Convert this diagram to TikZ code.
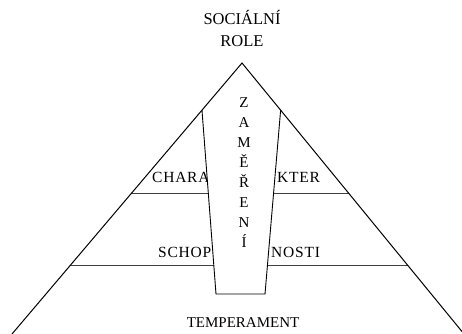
\documentclass[tikz,border=0pt]{standalone}
\usepackage{fontspec}
\setmainfont{Liberation Serif}
\newfontfamily\layerfont[LetterSpace=5]{Liberation Serif}
\usetikzlibrary{calc}

\begin{document}
\begin{tikzpicture}[x=1pt, y=-1pt, every node/.style={inner sep=0pt, font=\fontsize{15}{18}\selectfont},
  layer/.style={draw=black!75, line width=0.7pt},
  layertext/.style={anchor=base west, font=\layerfont\fontsize{15.5}{18}\selectfont}]
\useasboundingbox (0,0) rectangle (462,333);
\coordinate (apex) at (242,63);
\coordinate (bl) at (12,334);
\coordinate (br) at (464,334);
\draw[layer] ($(apex)!0.481!(bl)$) -- ($(apex)!0.481!(br)$);
\draw[layer] ($(apex)!0.748!(bl)$) -- ($(apex)!0.748!(br)$);
\node[layertext] (chara) at (152,182) {CHARA};
\node[layertext] (kter) at (277,182) {KTER};
\node[layertext] (schop) at (158,257) {SCHOP};
\node[layertext] (nosti) at (271,257) {NOSTI};
% zamereni
\filldraw[fill=white, line width=0.9pt] ($(apex)!0.174!(bl)$) coordinate (zl) -- (216,294) coordinate (zbl)
  -- (265,294) coordinate (zbr) -- ($(apex)!0.174!(br)$) coordinate (zr);
\draw[line width=1pt] (bl) -- (apex) -- (br);
\node[anchor=north, align=center, font=\fontsize{15}{20}\selectfont] (zamereni) at (244,97)
  {Z\\A\\M\\Ě\\Ř\\E\\N\\Í};
\node[anchor=south, align=center, font=\fontsize{16.5}{22}\selectfont] (role) at (242,47) {SOCIÁLNÍ\\ROLE};
\node[anchor=base] (temperament) at (243,327) {TEMPERAMENT};
\end{tikzpicture}
\end{document}
